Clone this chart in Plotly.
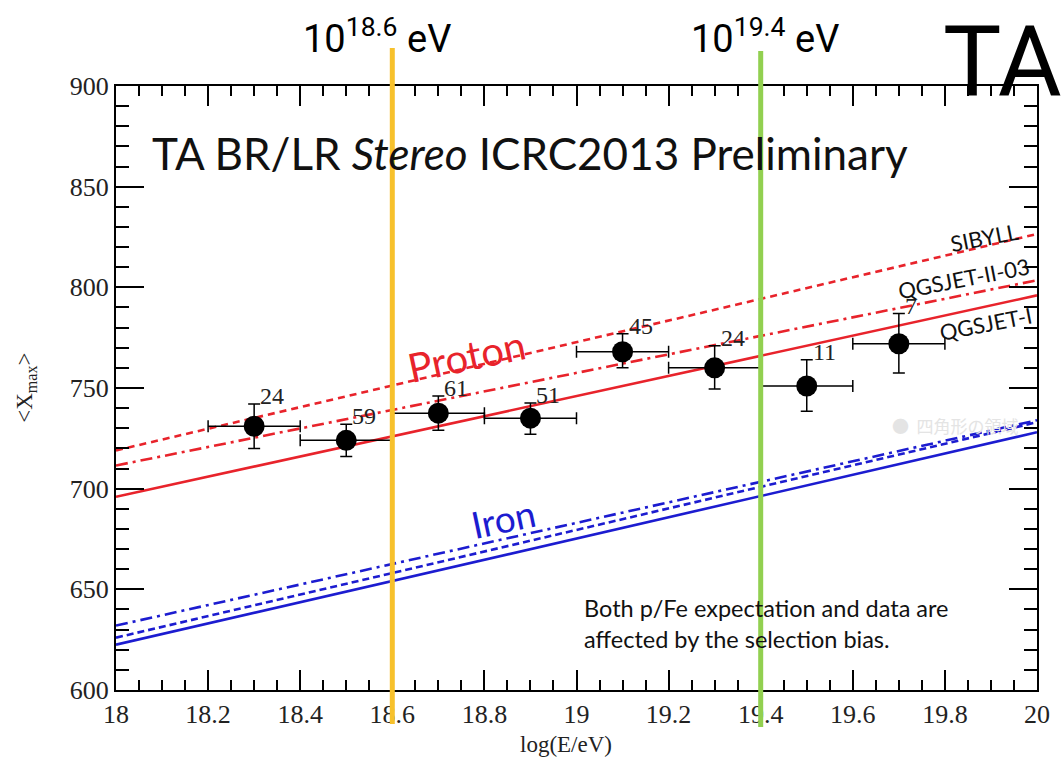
import plotly.graph_objects as go

# ---------------- data ----------------
log_e = [18.3, 18.5, 18.7, 18.9, 19.1, 19.3, 19.5, 19.7]
xmax_mean = [731, 724, 737.5, 735, 768, 760, 751, 772]
err_plus = [11, 8, 8.5, 7.5, 9, 11, 13, 15]
err_minus = [11, 8, 8.5, 8, 8, 10.5, 12.5, 14.5]
bin_half = [0.1] * 8
counts = ["24", "59", "61", "51", "45", "24", "11", "7"]

model_x = [18, 20]
proton_sibyll = [719, 826.5]
proton_qgsjet2 = [711.5, 803.5]
proton_qgsjet1 = [696, 796]
iron_sibyll = [626, 733]
iron_qgsjet2 = [632, 734]
iron_qgsjet1 = [622.5, 728]

x_ticks = [18, 18.2, 18.4, 18.6, 18.8, 19, 19.2, 19.4, 19.6, 19.8, 20]
x_ticktext = ["18", "18.2", "18.4", "18.6", "18.8", "19", "19.2", "19.4", "19.6", "19.8", "20"]
y_ticks = [600, 650, 700, 750, 800, 850, 900]
energy_marks = [18.6, 19.4]
energy_labels = ["10<sup>18.6</sup> eV", "10<sup>19.4</sup> eV"]

RED = "#e8232b"
BLUE = "#1c1cd0"
SERIF = "Liberation Serif"
SANS = "Lato"

fig = go.Figure()

def model_line(y, color, dash):
    fig.add_trace(go.Scatter(x=model_x, y=y, mode="lines",
                             line=dict(color=color, width=2.6, dash=dash),
                             hoverinfo="skip", showlegend=False))

model_line(proton_qgsjet1, RED, "solid")
model_line(proton_qgsjet2, RED, "12px,5px,3px,5px")
model_line(proton_sibyll, RED, "7px,5px")
model_line(iron_qgsjet1, BLUE, "solid")
model_line(iron_sibyll, BLUE, "7px,4px")
model_line(iron_qgsjet2, BLUE, "12px,5px,3px,5px")

fig.add_trace(go.Scatter(
    x=log_e, y=xmax_mean, mode="markers",
    marker=dict(color="black", size=21),
    error_y=dict(type="data", array=err_plus, arrayminus=err_minus,
                 color="black", thickness=1.5, width=6),
    error_x=dict(type="data", array=bin_half, color="black", thickness=1.5, width=6),
    showlegend=False))

annotations = []
for x, y, ep, c in zip(log_e, xmax_mean, err_plus, counts):
    annotations.append(dict(x=x, y=y + ep, text=c, showarrow=False,
                            xanchor="left", yanchor="middle", xshift=4, yshift=8,
                            font=dict(family=SERIF, size=24, color="#222")))

# title inside the plot
annotations.append(dict(x=18.073, y=866.5, text="TA BR/LR <i>Stereo</i> ICRC2013 Preliminary",
                        showarrow=False, xanchor="left", yanchor="middle",
                        font=dict(family=SANS, size=44, color="#111")))
annotations.append(dict(x=18.761, y=766, text="Proton", showarrow=False, textangle=-12,
                        xanchor="center", yanchor="middle",
                        font=dict(family=SANS, size=40, color=RED)))
annotations.append(dict(x=18.84, y=685, text="Iron", showarrow=False, textangle=-12,
                        xanchor="center", yanchor="middle",
                        font=dict(family=SANS, size=37, color=BLUE)))
annotations.append(dict(x=19.884, y=825, text="SIBYLL", showarrow=False, textangle=-11,
                        xanchor="center", yanchor="middle",
                        font=dict(family=SANS, size=22, color="#111")))
annotations.append(dict(x=19.84, y=804.5, text="QGSJET-II-03", showarrow=False, textangle=-11,
                        xanchor="center", yanchor="middle",
                        font=dict(family=SANS, size=22, color="#111")))
annotations.append(dict(x=19.89, y=781.8, text="QGSJET-I", showarrow=False, textangle=-11,
                        xanchor="center", yanchor="middle",
                        font=dict(family=SANS, size=22, color="#111")))
annotations.append(dict(x=19.011, y=633, text="Both p/Fe expectation and data are<br>affected by the selection bias.",
                        showarrow=False, xanchor="left", yanchor="middle", align="left",
                        font=dict(family=SANS, size=23.5, color="#111")))
# faint screenshot artefact
annotations.append(dict(x=19.68, y=731.6, text="● &nbsp;四角形の領域", showarrow=False,
                        xanchor="left", yanchor="middle",
                        font=dict(family="Noto Sans CJK JP", size=17, color="#e4e4e4")))

# axis titles
annotations.append(dict(xref="paper", yref="paper", x=0.489, y=-0.091, text="log(E/eV)",
                        showarrow=False, xanchor="center", yanchor="middle",
                        font=dict(family=SERIF, size=23, color="#222")))
annotations.append(dict(xref="paper", yref="paper", x=-0.098, y=0.5,
                        text="&lt;X<sub>max</sub>&gt;", showarrow=False, textangle=-90,
                        xanchor="center", yanchor="middle",
                        font=dict(family=SERIF, size=23, color="#222")))

# energy labels on top
label_px = [0.283, 0.705]
for xp, t in zip(label_px, energy_labels):
    annotations.append(dict(xref="paper", yref="paper", x=xp, y=1.083, text=t,
                            showarrow=False, xanchor="center", yanchor="middle",
                            font=dict(family="Roboto", size=38, color="black")))
annotations.append(dict(xref="paper", yref="paper", x=0.963, y=1.041, text="TA",
                        showarrow=False, xanchor="center", yanchor="middle",
                        font=dict(family="Roboto", size=98, color="black")))

shapes = []
mark_colors = ["#f7c12c", "#92d050"]
mark_spans = [(-0.0563, 1.063), (-0.0613, 1.058)]
for xv, col, (y0, y1) in zip(energy_marks, mark_colors, mark_spans):
    shapes.append(dict(type="line", xref="x", yref="paper", x0=xv, x1=xv, y0=y0, y1=y1,
                       line=dict(color=col, width=5), layer="above"))

fig.update_layout(
    width=1062, height=758,
    margin=dict(l=116, r=18, t=86, b=68),
    paper_bgcolor="white", plot_bgcolor="white",
    font=dict(family=SERIF, size=24, color="#222"),
    annotations=annotations, shapes=shapes,
    showlegend=False,
)
fig.update_xaxes(range=[18, 20], tickvals=x_ticks, ticktext=x_ticktext,
                 ticks="inside", ticklen=20, tickwidth=1.5, tickcolor="black",
                 minor=dict(dtick=0.05, ticks="inside", ticklen=10, tickwidth=1.5, tickcolor="black"),
                 showline=True, linecolor="black", linewidth=2, mirror="ticks",
                 showgrid=False, zeroline=False,
                 tickfont=dict(family=SERIF, size=26, color="#222"))
fig.update_yaxes(range=[600, 900], tickvals=y_ticks,
                 ticks="inside", ticklen=28, tickwidth=1.5, tickcolor="black",
                 minor=dict(dtick=10, ticks="inside", ticklen=13, tickwidth=1.5, tickcolor="black"),
                 showline=True, linecolor="black", linewidth=2, mirror="ticks",
                 showgrid=False, zeroline=False,
                 tickfont=dict(family=SERIF, size=26, color="#222"))

fig.write_html("out.html")
